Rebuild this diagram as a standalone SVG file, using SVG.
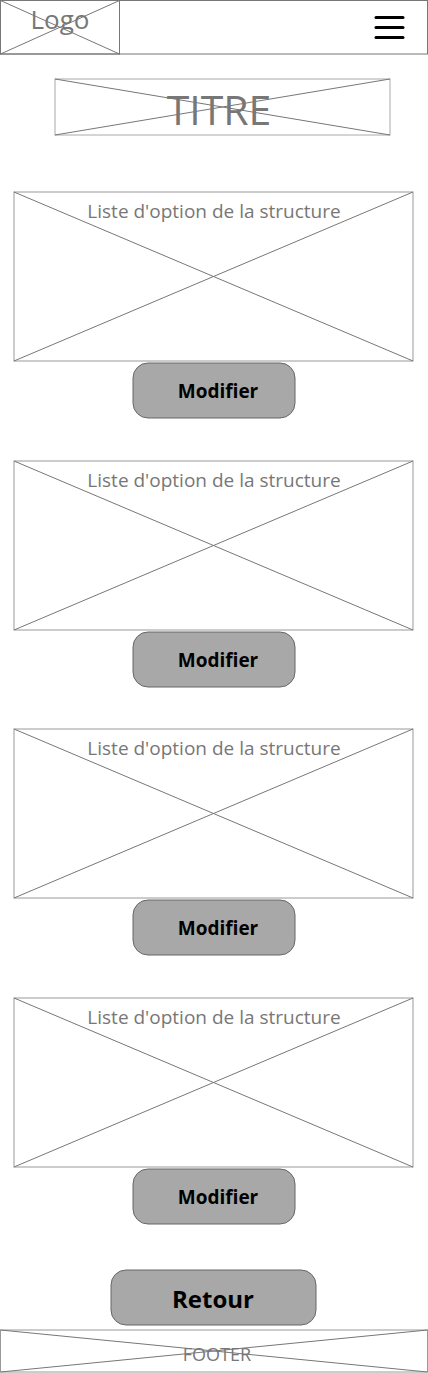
<svg xmlns="http://www.w3.org/2000/svg" width="428" height="1373" viewBox="0 0 428 1373">
<style>
.ph{fill:#fff;stroke:#999;stroke-width:1}
.x{stroke:#777;stroke-width:1;fill:none}
.btn{fill:#a8a8a8;stroke:#666;stroke-width:1}
.lbl{font-family:"Open Sans","Noto Sans",sans-serif;fill:#777;text-anchor:middle}
.bt{font-family:"Open Sans","Noto Sans",sans-serif;font-weight:bold;fill:#000;text-anchor:middle}
</style>
<rect width="428" height="1373" fill="#fff"/>
<g id="header">
<rect x="0.5" y="0.5" width="427" height="53.5" fill="#fff" stroke="#777"/>
<g id="logo">
<rect x="0.5" y="0.5" width="119" height="53.5" fill="none" stroke="#777"/>
<path class="x" d="M0.5 0.5L119.5 54M0.5 54L119.5 0.5"/>
<text class="lbl" x="60" y="29" font-size="26">Logo</text>
</g>
<g id="menu" stroke="#000" stroke-width="3" stroke-linecap="round">
<line x1="376" y1="17.5" x2="403" y2="17.5"/>
<line x1="376" y1="27.5" x2="403" y2="27.5"/>
<line x1="376" y1="37.5" x2="403" y2="37.5"/>
</g>
</g>
<g id="titre">
<rect x="55" y="79" width="335" height="56" fill="#fff" stroke="#aaa"/>
<path class="x" d="M55 79L390 135M55 135L390 79"/>
<text class="lbl" x="219" y="125" font-size="41">TITRE</text>
</g>
<g id="liste1">
<rect class="ph" x="14" y="192" width="399" height="169"/>
<path class="x" d="M14 192L413 361M14 361L413 192"/>
<text class="lbl" x="214" y="218" font-size="19">Liste d'option de la structure</text>
</g>
<g id="modifier1">
<rect class="btn" x="133" y="363" width="162" height="55" rx="15"/>
<text class="bt" x="218" y="398" font-size="19">Modifier</text>
</g>
<g id="liste2">
<rect class="ph" x="14" y="461" width="399" height="169"/>
<path class="x" d="M14 461L413 630M14 630L413 461"/>
<text class="lbl" x="214" y="487" font-size="19">Liste d'option de la structure</text>
</g>
<g id="modifier2">
<rect class="btn" x="133" y="632" width="162" height="55" rx="15"/>
<text class="bt" x="218" y="667" font-size="19">Modifier</text>
</g>
<g id="liste3">
<rect class="ph" x="14" y="729" width="399" height="169"/>
<path class="x" d="M14 729L413 898M14 898L413 729"/>
<text class="lbl" x="214" y="755" font-size="19">Liste d'option de la structure</text>
</g>
<g id="modifier3">
<rect class="btn" x="133" y="900" width="162" height="55" rx="15"/>
<text class="bt" x="218" y="935" font-size="19">Modifier</text>
</g>
<g id="liste4">
<rect class="ph" x="14" y="998" width="399" height="169"/>
<path class="x" d="M14 998L413 1167M14 1167L413 998"/>
<text class="lbl" x="214" y="1024" font-size="19">Liste d'option de la structure</text>
</g>
<g id="modifier4">
<rect class="btn" x="133" y="1169" width="162" height="55" rx="15"/>
<text class="bt" x="218" y="1204" font-size="19">Modifier</text>
</g>
<g id="retour">
<rect class="btn" x="111" y="1270" width="205" height="55" rx="15"/>
<text class="bt" x="213" y="1308" font-size="24">Retour</text>
</g>
<g id="footer">
<rect x="0.5" y="1330" width="427" height="42" fill="#fff" stroke="#999"/>
<path class="x" d="M0.5 1330L427.5 1372M0.5 1372L427.5 1330"/>
<text class="lbl" x="217" y="1361" font-size="18">FOOTER</text>
</g>
<g id="connectors"/>
</svg>
